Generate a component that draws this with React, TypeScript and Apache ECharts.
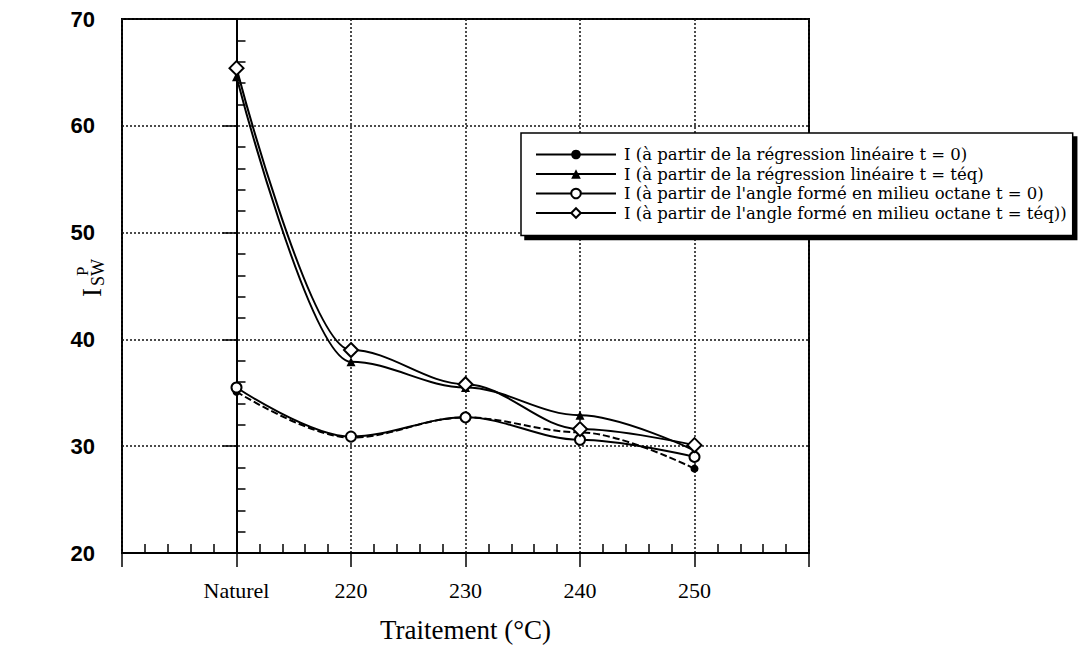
import React, { useEffect, useRef } from "react";
import * as echarts from "echarts";

const categories = ["Naturel", "220", "230", "240", "250"];
const seriesNames = [
  "I (à partir de la régression linéaire t = 0)",
  "I (à partir de la régression linéaire t = téq)",
  "I (à partir de l'angle formé en milieu octane t = 0)",
  "I (à partir de l'angle formé en milieu octane t = téq))",
];
const regressionT0 = [35.1, 30.8, 32.7, 31.3, 27.9];
const regressionTeq = [64.6, 37.9, 35.5, 32.9, 29.6];
const angleT0 = [35.5, 30.9, 32.7, 30.6, 29.0];
const angleTeq = [65.4, 39.0, 35.8, 31.6, 30.1];
const yTicks = { min: 20, max: 70, interval: 10 };

const SERIF = "Liberation Serif";

function pairs(values: number[]) {
  return values.map((v, i) => [i, v]);
}

export default function App() {
  const ref = useRef<HTMLDivElement>(null);
  useEffect(() => {
    if (!ref.current) return;
    const chart = echarts.init(ref.current, null, { renderer: "svg" });
    const lineStyle = { color: "#000", width: 2 };
    const dotted = { type: [2, 2] as any, color: "#111", width: 1.5 };
    const common = { type: "line", smooth: 0.35, smoothMonotone: "x" };
    chart.setOption({
      animation: false,
      backgroundColor: "#fff",
      grid: {
        left: 122,
        right: 269,
        top: 19,
        bottom: 91,
        show: true,
        borderColor: "#000",
        borderWidth: 2,
        backgroundColor: "transparent",
      },
      legend: {
        orient: "vertical",
        left: 521,
        top: 133,
        padding: [13, 6, 14, 14],
        itemWidth: 80,
        itemHeight: 12,
        itemGap: 2.5,
        backgroundColor: "#fff",
        borderColor: "#000",
        borderWidth: 1.5,
        shadowColor: "#000",
        shadowOffsetX: 4,
        shadowOffsetY: 4,
        shadowBlur: 0,
        textStyle: {
          fontFamily: "DejaVu Serif",
          fontSize: 16.5,
          lineHeight: 16,
          color: "#000",
          padding: [0, 0, 0, 3],
        },
        data: seriesNames.map((n) => ({ name: n, lineStyle: { type: "solid" } })),
      },
      xAxis: {
        type: "value",
        min: -1,
        max: 5,
        interval: 1,
        axisLine: { show: true, lineStyle: { color: "#000", width: 2 } },
        axisTick: { show: true, inside: false, length: 14, lineStyle: { color: "#000", width: 1.5 } },
        minorTick: { show: true, splitNumber: 5, length: -9, lineStyle: { color: "#000", width: 1.5 } },
        splitLine: { show: true, lineStyle: dotted },
        axisLabel: {
          formatter: (v: number) => categories[Math.round(v)] ?? "",
          fontFamily: SERIF,
          fontSize: 22,
          color: "#000",
          margin: 26,
        },
        name: "Traitement (°C)",
        nameLocation: "middle",
        nameGap: 63,
        nameTextStyle: { fontFamily: SERIF, fontSize: 27, color: "#000" },
      },
      yAxis: {
        type: "value",
        min: yTicks.min,
        max: yTicks.max,
        interval: yTicks.interval,
        axisLine: { show: true, lineStyle: { color: "#000", width: 2 } },
        axisTick: { show: true, inside: false, length: 14, lineStyle: { color: "#000", width: 1.5 } },
        minorTick: { show: true, splitNumber: 5, length: -9, lineStyle: { color: "#000", width: 1.5 } },
        splitLine: { show: true, lineStyle: dotted },
        axisLabel: {
          fontFamily: "Liberation Sans",
          fontWeight: "bold",
          fontSize: 22,
          color: "#000",
          margin: 27,
        },
      },
      graphic: [
        {
          type: "group",
          x: 100,
          y: 297,
          rotation: Math.PI / 2,
          children: [
            {
              type: "text",
              x: 0,
              y: -8,
              style: { text: "I", font: `27px "${SERIF}"`, fill: "#000", verticalAlign: "middle", align: "left" },
            },
            {
              type: "text",
              x: 11,
              y: -2.5,
              style: { text: "SW", font: `18px "${SERIF}"`, fill: "#000", verticalAlign: "middle", align: "left" },
            },
            {
              type: "text",
              x: 21,
              y: -18,
              style: { text: "P", font: `17px "${SERIF}"`, fill: "#000", verticalAlign: "middle", align: "left" },
            },
          ],
        },
      ],
      series: [
        {
          ...common,
          name: seriesNames[0],
          data: pairs(regressionT0),
          symbol: "circle",
          symbolSize: 8,
          itemStyle: { color: "#000" },
          lineStyle: { ...lineStyle, type: [7, 3] },
          z: 3,
        },
        {
          ...common,
          name: seriesNames[1],
          data: pairs(regressionTeq),
          symbol: "triangle",
          symbolSize: 9,
          itemStyle: { color: "#000" },
          lineStyle,
          z: 3,
        },
        {
          ...common,
          name: seriesNames[2],
          data: pairs(angleT0),
          symbol: "emptyCircle",
          symbolSize: 10,
          itemStyle: { color: "#000", borderWidth: 2 },
          lineStyle,
          z: 4,
        },
        {
          ...common,
          name: seriesNames[3],
          data: pairs(angleTeq),
          symbol: "diamond",
          symbolSize: 14,
          itemStyle: { color: "#fff", borderColor: "#000", borderWidth: 2 },
          lineStyle,
          z: 4,
        },
      ],
    });
    return () => chart.dispose();
  }, []);
  return (
    <div
      ref={ref}
      style={{ position: "fixed", left: 0, top: 0, width: 1078, height: 648, background: "#fff" }}
    />
  );
}
